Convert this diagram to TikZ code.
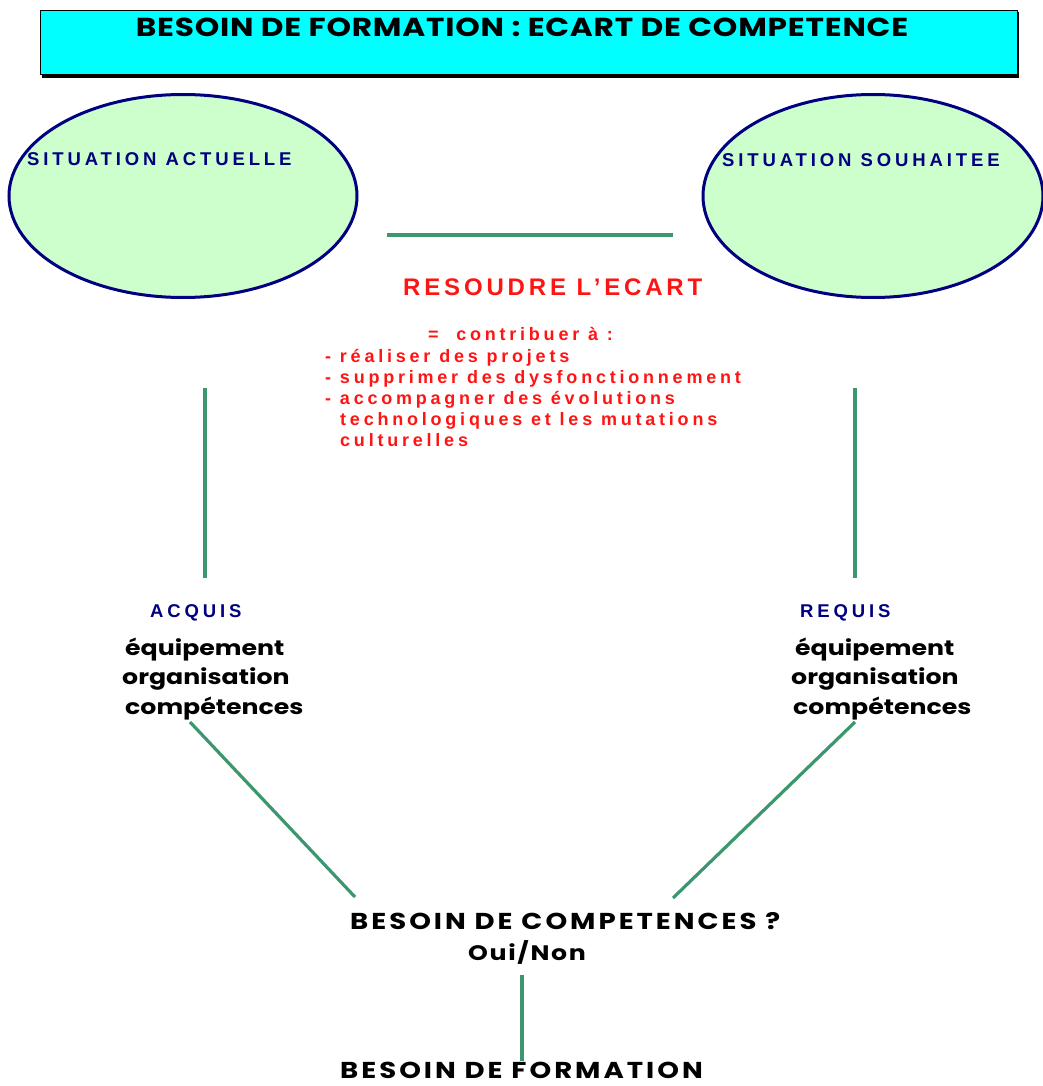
\documentclass[tikz,border=0pt]{standalone}
\usepackage{fontspec}
\setmainfont{Liberation Sans}
\newfontfamily\comictitle{Poppins}[FakeStretch=1.2,LetterSpace=3]
\newfontfamily\comiclist{Poppins}[FakeStretch=1.2]
\newfontfamily\comicbig{Poppins}[FakeStretch=1.2,LetterSpace=13]
\newfontfamily\comicoui{Poppins}[FakeStretch=1.2,LetterSpace=8]
\newfontfamily\ariallbl{Liberation Sans}[LetterSpace=21]
\newfontfamily\arialres{Liberation Sans}[LetterSpace=16]
\newfontfamily\arialwide{Liberation Sans}[LetterSpace=21]
\usetikzlibrary{shapes.geometric}
\definecolor{cyanbox}{RGB}{0,255,255}
\definecolor{paleg}{RGB}{204,255,204}
\definecolor{navy}{RGB}{0,0,128}
\definecolor{lgreen}{RGB}{60,150,110}
\definecolor{redt}{RGB}{255,20,20}
\begin{document}
\begin{tikzpicture}[x=1pt,y=-1pt,
  conn/.style={draw=lgreen,line width=3.2pt},
  situ/.style={ellipse,draw=navy,line width=3pt,fill=paleg,minimum height=203pt,inner sep=0pt},
  lbl/.style={text=navy,font=\ariallbl\bfseries\fontsize{18.5}{20}\selectfont,inner sep=0pt,anchor=base west},
  listtext/.style={font=\comiclist\bfseries\fontsize{21}{29.5}\selectfont,inner sep=0pt,anchor=base west},
  redtext/.style={text=redt,font=\arialwide\bfseries\fontsize{18}{21}\selectfont,inner sep=0pt,anchor=base west},
  bigtext/.style={font=\comicbig\bfseries\fontsize{23}{26}\selectfont,inner sep=0pt,anchor=base west}]
\useasboundingbox (0,0) rectangle (1042,1086);
% title
\fill[black] (42,12) rectangle (1019,78);
\node[draw=black,line width=1pt,fill=cyanbox,minimum width=977pt,minimum height=64pt,anchor=north west,inner sep=0pt] (title) at (40,10) {};
\node[font=\comictitle\bfseries\fontsize{26}{30}\selectfont,inner sep=0pt,anchor=base] (titletext) at (522,37) {BESOIN DE FORMATION : ECART DE COMPETENCE};
% ellipses
\node[situ,minimum width=348pt] (left) at (183,196) {};
\node[situ,minimum width=340pt] (right) at (873,196) {};
\node[lbl] (lefttext) at (27,166) {SITUATION ACTUELLE};
\node[lbl] (righttext) at (722,167) {SITUATION SOUHAITEE};
% middle line
\coordinate (m1) at (387,235);
\coordinate (m2) at (673,235);
\draw[conn] (m1) -- (m2);
% resoudre
\node[text=redt,font=\arialres\bfseries\fontsize{24}{26}\selectfont,inner sep=0pt,anchor=base west] (resoudre) at (403,295) {RESOUDRE L’ECART};
\node[redtext] (contrib) at (428,340) {=~~contribuer à :};
\node[redtext] (l1) at (325,362) {- réaliser des projets};
\node[redtext] (l2) at (325,383) {- supprimer des dysfonctionnement};
\node[redtext] (l3) at (325,404) {- accompagner des évolutions};
\node[redtext] (l4) at (340,425) {technologiques et les mutations};
\node[redtext] (l5) at (340,446) {culturelles};
% verticals
\coordinate (v1a) at (205,388);
\coordinate (v1b) at (205,578);
\coordinate (v2a) at (855,388);
\coordinate (v2b) at (855,578);
\draw[conn] (v1a) -- (v1b);
\draw[conn] (v2a) -- (v2b);
% acquis / requis
\node[lbl] (acquis) at (150,617) {ACQUIS};
\node[lbl] (requis) at (800,617) {REQUIS};
\node[listtext] (acq1) at (125,655) {équipement};
\node[listtext] (acq2) at (122,684) {organisation};
\node[listtext] (acq3) at (125,714) {compétences};
\node[listtext] (req1) at (795,655) {équipement};
\node[listtext] (req2) at (791,684) {organisation};
\node[listtext] (req3) at (793,714) {compétences};
% diagonals
\coordinate (d1a) at (190,722);
\coordinate (d1b) at (355,897);
\coordinate (d2a) at (855,722);
\coordinate (d2b) at (673,898);
\draw[conn] (d1a) -- (d1b);
\draw[conn] (d2a) -- (d2b);
% bottom
\node[bigtext] (besoincomp) at (350,929) {BESOIN DE COMPETENCES ?};
\node[font=\comicoui\bfseries\fontsize{21}{24}\selectfont,inner sep=0pt,anchor=base west] (ouinon) at (468,960) {Oui/Non};
\coordinate (b1) at (522,975);
\coordinate (b2) at (522,1061);
\draw[conn] (b1) -- (b2);
\node[bigtext] (besoinform) at (340,1078) {BESOIN DE FORMATION};
\end{tikzpicture}
\end{document}
